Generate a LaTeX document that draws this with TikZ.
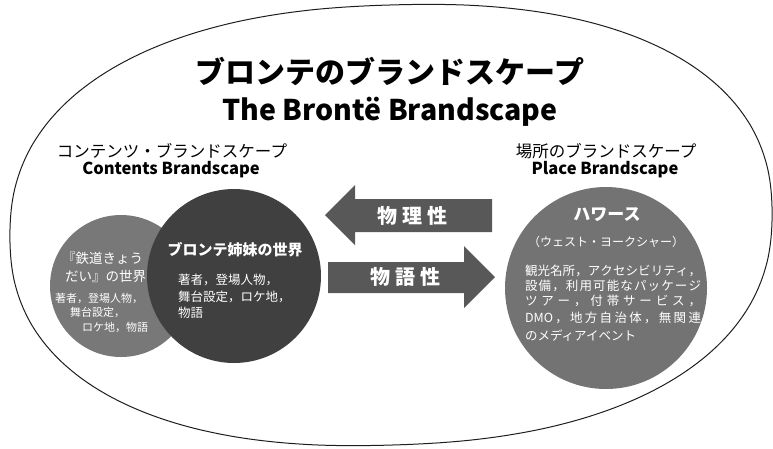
\documentclass[tikz,border=0pt]{standalone}
\usepackage{fontspec}
\setmainfont{Noto Sans CJK JP}
\definecolor{outl}{HTML}{1E1E1E}
\definecolor{lgray}{HTML}{787878}
\definecolor{dgray}{HTML}{404040}
\definecolor{rgray}{HTML}{737373}
\definecolor{arrc}{HTML}{585858}
\newcommand\jline[2]{\makebox[#1][s]{\jfirst#2\relax}}
\def\jfirst#1{#1\jrest}
\def\jrest#1{\ifx\relax#1\else\hfil#1\expandafter\jrest\fi}
\newcommand\fs[1]{\fontsize{#1}{#1}\selectfont}
\tikzset{
  txt/.style={inner sep=0pt, outer sep=0pt},
  wtxt/.style={txt, text=white},
  disc/.style={circle, inner sep=0pt, draw=none},
  bigarrow/.style={fill=arrc, draw=none}
}
\begin{document}
\begin{tikzpicture}[x=1pt,y=-1pt]
\useasboundingbox (0,0) rectangle (773,448);
% outer superellipse
\draw[outl, line width=1pt] plot[variable=\t, samples at={1,3,...,359}, smooth cycle]
  ({391+381*sign(cos(\t))*abs(cos(\t))^0.87},
   {225+220*sign(sin(\t))*abs(sin(\t))^0.87-11*sign(cos(\t))*abs(cos(\t))^0.87});

% titles
\node[txt, font=\bfseries\fs{30}] (title) at (390,71) {ブロンテのブランドスケープ};
\node[txt, font=\bfseries\fs{28.5}, anchor=base] (etitle) at (390,120) {The Brontë Brandscape};
\node[txt, font=\fs{16.5}] (lhead) at (172,151) {コンテンツ・ブランドスケープ};
\node[txt, font=\bfseries\fs{16.5}, anchor=base] (lhead2) at (171,174) {Contents Brandscape};
\node[txt, font=\fs{16.5}] (rhead) at (606,151) {場所のブランドスケープ};
\node[txt, font=\bfseries\fs{16.5}, anchor=base] (rhead2) at (605,174) {Place Brandscape};

% circles
\node[disc, fill=lgray, minimum size=142pt] (lc) at (121,286) {};
\node[disc, fill=dgray, minimum size=174pt] (dc) at (234,276) {};
\node[disc, fill=rgray, minimum size=202pt] (rc) at (606,288) {};

% arrows
\fill[bigarrow] (492,199) -- (355,199) -- (355,185) -- (325,215) -- (355,245) -- (355,232) -- (492,232) -- cycle;
\fill[bigarrow] (328,262) -- (464,262) -- (464,246) -- (495,277) -- (464,308) -- (464,293) -- (328,293) -- cycle;
\node[wtxt, font=\bfseries\fs{20}] (phys) at (412,216) {物\hspace{5pt}理\hspace{5pt}性};
\node[wtxt, font=\bfseries\fs{20}] (narr) at (405,277) {物\hspace{5pt}語\hspace{5pt}性};

% left gray circle text
\node[wtxt, font=\fs{13.5}, anchor=west] (l1) at (62,258) {『鉄道きょう};
\node[wtxt, font=\fs{13.5}, anchor=west] (l2) at (65,276) {だい』の世界};
\node[wtxt, font=\fs{11}, anchor=west] (l3) at (55,298) {著者，登場人物，};
\node[wtxt, font=\fs{11}, anchor=west] (l4) at (70,312) {舞台設定，};
\node[wtxt, font=\fs{11}, anchor=west] (l5) at (82,327) {ロケ地，物語};

% dark circle text
\node[wtxt, font=\bfseries\fs{15}] (d0) at (235,250) {ブロンテ姉妹の世界};
\node[wtxt, font=\fs{12.5}, anchor=west] (d1) at (178,280) {著者，登場人物，};
\node[wtxt, font=\fs{12.5}, anchor=west] (d2) at (178,297) {舞台設定，ロケ地，};
\node[wtxt, font=\fs{12.5}, anchor=west] (d3) at (178,313) {物語};

% right circle text
\node[wtxt, font=\bfseries\fs{17}] (r0) at (607,215) {ハワース};
\node[wtxt, font=\fs{12}] (r1) at (606,242) {（ウェスト・ヨークシャー）};
\node[wtxt, font=\fs{12.5}, anchor=west] (r2) at (525,271) {\jline{176pt}{観光名所，アクセシビリティ，}};
\node[wtxt, font=\fs{12.5}, anchor=west] (r3) at (525,286) {\jline{176pt}{設備，利用可能なパッケージ}};
\node[wtxt, font=\fs{12.5}, anchor=west] (r4) at (525,301) {\jline{176pt}{ツアー，付帯サービス，}};
\node[wtxt, font=\fs{12.5}, anchor=west] (r5) at (525,318) {\jline{176pt}{{DMO}，地方自治体，無関連}};
\node[wtxt, font=\fs{12.5}, anchor=west] (r6) at (525,336) {のメディアイベント};
\end{tikzpicture}
\end{document}
